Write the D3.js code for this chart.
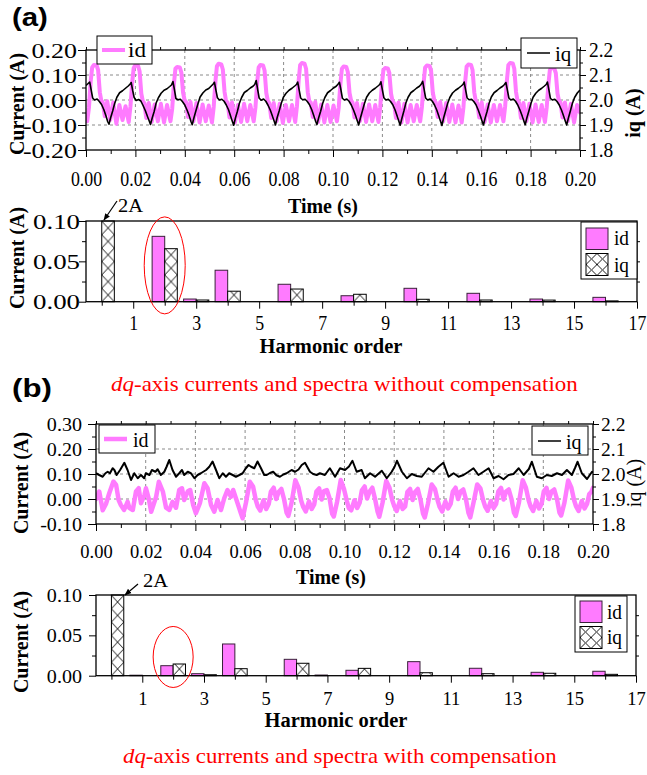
<!DOCTYPE html>
<html>
<head>
<meta charset="utf-8">
<script src="https://cdn.jsdelivr.net/npm/d3@7"></script>
<style>
  html, body { margin: 0; padding: 0; background: #fff; }
  svg { display: block; }
</style>
</head>
<body>
<svg id="fig" width="647" height="775"></svg>
<script>
// ---------------- data ----------------
// time axis (ms) and its labels (s)
const timeTicks = [0, 20, 40, 60, 80, 100, 120, 140, 160, 180, 200];
const timeMinorTicks = [10, 30, 50, 70, 90, 110, 130, 150, 170, 190];
const timeTickLabels = ["0.00", "0.02", "0.04", "0.06", "0.08", "0.10", "0.12", "0.14", "0.16", "0.18", "0.20"];

const iqTicks = [1.8, 1.9, 2.0, 2.1, 2.2];
const iqMinorTicks = [1.85, 1.95, 2.05, 2.15];
const iqTickLabels = ["1.8", "1.9", "2.0", "2.1", "2.2"];

const idTicksA = [-0.2, -0.1, 0, 0.1, 0.2];
const idMinorTicksA = [-0.15, -0.05, 0.05, 0.15];
const idTickLabelsA = ["-0.20", "-0.10", "0.00", "0.10", "0.20"];
const idTicksB = [-0.1, 0, 0.1, 0.2, 0.3];
const idMinorTicksB = [-0.05, 0.05, 0.15, 0.25];
const idTickLabelsB = ["-0.10", "0.00", "0.10", "0.20", "0.30"];

// harmonic spectra
const harmonics = [0, 1, 2, 3, 4, 5, 6, 7, 8, 9, 10, 11, 12, 13, 14, 15, 16];
const harmonicTicks = [1, 3, 5, 7, 9, 11, 13, 15, 17];
const harmonicMinorTicks = [0, 2, 4, 6, 8, 10, 12, 14, 16];
const harmonicTickLabels = ["1", "3", "5", "7", "9", "11", "13", "15", "17"];
const specTicks = [0, 0.05, 0.1];
const specMinorTicks = [0.025, 0.075];
const specTickLabels = ["0.00", "0.05", "0.10"];

const idSpecA = [0, 0, 0.081, 0.0033, 0.039, 0, 0.0216, 0, 0.0074, 0, 0.0166, 0, 0.0104, 0, 0.0033, 0, 0.0054];
const iqSpecA = [2.0, 0, 0.0657, 0.0021, 0.013, 0, 0.0157, 0, 0.0092, 0, 0.003, 0, 0.0021, 0, 0.002, 0, 0.001];
const idSpecB = [0, 0.0006, 0.0124, 0.0025, 0.0393, 0, 0.0203, 0.0008, 0.0067, 0, 0.0174, 0, 0.0092, 0, 0.0042, 0, 0.0055];
const iqSpecB = [2.0, 0, 0.0145, 0.0012, 0.0087, 0, 0.0154, 0, 0.0091, 0, 0.0037, 0, 0.0025, 0, 0.003, 0, 0.0017];

// time series [t (ms), current (A)] -- without compensation
const idA = [
  [0,-0.075],
  [0.5,-0.085],[1.2,-0.03],[1.9,0.075],[2.5,0.13],[3.2,0.14],[4.3,0.138],[4.9,0.12],[5.6,0.03],[6.2,-0.002],[6.8,-0.01],[7.6,-0.065],[8.6,-0.005],[9.8,-0.08],[11.0,-0.01],[12.3,-0.095],[13.5,-0.02],[14.8,-0.08],[16.0,-0.025],
  [17.3,-0.088],[18.0,-0.025],[18.7,0.07],[19.3,0.128],[20.0,0.14],[21.1,0.136],[21.7,0.115],[22.4,0.025],[23.0,-0.005],[23.6,-0.012],[24.4,-0.072],[25.4,-0.012],[26.6,-0.088],[27.8,-0.018],[29.1,-0.085],[30.3,-0.015],[31.6,-0.09],[32.8,-0.02],
  [34.2,-0.085],[34.9,-0.035],[35.6,0.065],[36.2,0.125],[36.9,0.132],[38.0,0.13],[38.6,0.11],[39.3,0.03],[39.9,0.0],[40.5,-0.008],[41.3,-0.068],[42.3,-0.008],[43.5,-0.085],[44.7,-0.012],[46.0,-0.09],[47.2,-0.018],[48.5,-0.085],[49.7,-0.022],
  [51.0,-0.09],[51.7,-0.028],[52.4,0.075],[53.0,0.135],[53.7,0.145],[54.8,0.142],[55.4,0.122],[56.1,0.032],[56.7,-0.004],[57.3,-0.01],[58.1,-0.07],[59.1,-0.01],[60.3,-0.09],[61.5,-0.02],[62.8,-0.088],[64.0,-0.015],[65.3,-0.085],[66.5,-0.02],
  [67.9,-0.085],[68.6,-0.03],[69.3,0.07],[69.9,0.13],[70.6,0.14],[71.7,0.138],[72.3,0.118],[73.0,0.028],[73.6,-0.003],[74.2,-0.012],[75.0,-0.072],[76.0,-0.012],[77.2,-0.085],[78.4,-0.015],[79.7,-0.092],[80.9,-0.02],[82.2,-0.085],[83.4,-0.02],
  [84.7,-0.088],[85.4,-0.025],[86.1,0.078],[86.7,0.14],[87.4,0.148],[88.5,0.145],[89.1,0.125],[89.8,0.03],[90.4,-0.005],[91.0,-0.01],[91.8,-0.068],[92.8,-0.008],[94.0,-0.088],[95.2,-0.018],[96.5,-0.09],[97.7,-0.02],[99.0,-0.088],[100.2,-0.022],
  [101.6,-0.085],[102.3,-0.032],[103.0,0.065],[103.6,0.125],[104.3,0.134],[105.4,0.132],[106.0,0.112],[106.7,0.028],[107.3,-0.002],[107.9,-0.01],[108.7,-0.07],[109.7,-0.012],[110.9,-0.085],[112.1,-0.015],[113.4,-0.088],[114.6,-0.018],[115.9,-0.085],[117.1,-0.02],
  [118.4,-0.088],[119.1,-0.03],[119.8,0.062],[120.4,0.12],[121.1,0.128],[122.2,0.126],[122.8,0.108],[123.5,0.025],[124.1,-0.005],[124.7,-0.012],[125.5,-0.072],[126.5,-0.01],[127.7,-0.09],[128.9,-0.015],[130.2,-0.09],[131.4,-0.02],[132.7,-0.085],[133.9,-0.02],
  [135.3,-0.085],[136.0,-0.028],[136.7,0.07],[137.3,0.13],[138.0,0.138],[139.1,0.136],[139.7,0.118],[140.4,0.03],[141.0,0.0],[141.6,-0.01],[142.4,-0.068],[143.4,-0.008],[144.6,-0.085],[145.8,-0.012],[147.1,-0.088],[148.3,-0.018],[149.6,-0.09],[150.8,-0.022],
  [152.1,-0.09],[152.8,-0.03],[153.5,0.072],[154.1,0.134],[154.8,0.142],[155.9,0.14],[156.5,0.12],[157.2,0.03],[157.8,-0.004],[158.4,-0.012],[159.2,-0.07],[160.2,-0.01],[161.4,-0.088],[162.6,-0.018],[163.9,-0.09],[165.1,-0.02],[166.4,-0.085],[167.6,-0.02],
  [169.0,-0.085],[169.7,-0.025],[170.4,0.078],[171.0,0.14],[171.7,0.148],[172.8,0.146],[173.4,0.125],[174.1,0.032],[174.7,-0.002],[175.3,-0.01],[176.1,-0.072],[177.1,-0.012],[178.3,-0.085],[179.5,-0.015],[180.8,-0.09],[182.0,-0.018],[183.3,-0.088],[184.5,-0.02],
  [185.8,-0.088],[186.5,-0.032],[187.2,0.062],[187.8,0.12],[188.5,0.128],[189.6,0.126],[190.2,0.108],[190.9,0.025],[191.5,-0.004],[192.1,-0.01],[192.9,-0.07],[193.9,-0.01],[195.1,-0.085],[196.3,-0.015],[197.6,-0.09],[198.8,-0.02],[200.0,-0.05]
];
const iqA = [
  [0,2.058],
  [1.5,2.072],[2.1,2.04],[2.7,2.008],[3.5,2.0],[4.5,2.004],[5.4,1.994],[6.3,1.982],[7.2,1.962],[8.1,1.936],[8.8,1.913],[9.3,1.903],[10.0,1.93],[10.8,1.956],[11.6,1.986],[12.5,2.011],[13.6,2.029],[14.8,2.037],[16.0,2.047],[17.1,2.056],[17.8,2.063],
  [18.3,2.07],[18.9,2.038],[19.5,2.01],[20.3,1.998],[21.3,2.002],[22.2,1.996],[23.1,1.978],[24.0,1.958],[24.9,1.934],[25.6,1.916],[26.1,1.902],[26.8,1.928],[27.6,1.954],[28.4,1.988],[29.3,2.009],[30.4,2.027],[31.6,2.039],[32.8,2.045],[33.9,2.054],[34.6,2.06],
  [35.2,2.074],[35.8,2.042],[36.4,2.006],[37.2,2.001],[38.2,2.003],[39.1,1.993],[40.0,1.98],[40.9,1.96],[41.8,1.937],[42.5,1.914],[43.0,1.901],[43.7,1.929],[44.5,1.957],[45.3,1.984],[46.2,2.012],[47.3,2.028],[48.5,2.04],[49.7,2.046],[50.8,2.057],[51.5,2.064],
  [52.0,2.071],[52.6,2.039],[53.2,2.009],[54.0,2.0],[55.0,2.003],[55.9,1.995],[56.8,1.98],[57.7,1.961],[58.6,1.934],[59.3,1.913],[59.8,1.899],[60.5,1.928],[61.3,1.955],[62.1,1.987],[63.0,2.01],[64.1,2.03],[65.3,2.038],[66.5,2.048],[67.6,2.055],[68.3,2.062],
  [68.9,2.078],[69.5,2.042],[70.1,2.008],[70.9,1.999],[71.9,2.004],[72.8,1.995],[73.7,1.979],[74.6,1.96],[75.5,1.935],[76.2,1.915],[76.7,1.9],[77.4,1.93],[78.2,1.956],[79.0,1.985],[79.9,2.011],[81.0,2.027],[82.2,2.039],[83.4,2.047],[84.5,2.056],[85.2,2.062],
  [85.7,2.072],[86.3,2.04],[86.9,2.008],[87.7,2.001],[88.7,2.003],[89.6,1.994],[90.5,1.981],[91.4,1.961],[92.3,1.935],[93.0,1.914],[93.5,1.902],[94.2,1.929],[95.0,1.955],[95.8,1.986],[96.7,2.01],[97.8,2.029],[99.0,2.038],[100.2,2.048],[101.3,2.055],[102.0,2.063],
  [102.6,2.071],[103.2,2.041],[103.8,2.007],[104.6,2.0],[105.6,2.004],[106.5,1.995],[107.4,1.98],[108.3,1.96],[109.2,1.936],[109.9,1.915],[110.4,1.9],[111.1,1.928],[111.9,1.956],[112.7,1.985],[113.6,2.011],[114.7,2.028],[115.9,2.039],[117.1,2.047],[118.2,2.056],[118.9,2.062],
  [119.4,2.073],[120.0,2.04],[120.6,2.009],[121.4,2.0],[122.4,2.003],[123.3,1.994],[124.2,1.981],[125.1,1.961],[126.0,1.935],[126.7,1.914],[127.2,1.899],[127.9,1.927],[128.7,1.956],[129.5,1.988],[130.4,2.011],[131.5,2.029],[132.7,2.038],[133.9,2.048],[135.0,2.055],[135.7,2.063],
  [136.3,2.075],[136.9,2.042],[137.5,2.008],[138.3,2.0],[139.3,2.004],[140.2,1.995],[141.1,1.98],[142.0,1.96],[142.9,1.934],[143.6,1.913],[144.1,1.898],[144.8,1.929],[145.6,1.957],[146.4,1.986],[147.3,2.01],[148.4,2.028],[149.6,2.039],[150.8,2.047],[151.9,2.056],[152.6,2.062],
  [153.1,2.072],[153.7,2.04],[154.3,2.008],[155.1,2.001],[156.1,2.003],[157.0,1.994],[157.9,1.981],[158.8,1.96],[159.7,1.935],[160.4,1.914],[160.9,1.9],[161.6,1.928],[162.4,1.955],[163.2,1.987],[164.1,2.012],[165.2,2.029],[166.4,2.038],[167.6,2.048],[168.7,2.055],[169.4,2.062],
  [170.0,2.07],[170.6,2.04],[171.2,2.008],[172.0,2.0],[173.0,2.004],[173.9,1.995],[174.8,1.98],[175.7,1.96],[176.6,1.936],[177.3,1.915],[177.8,1.901],[178.5,1.929],[179.3,1.956],[180.1,1.985],[181.0,2.011],[182.1,2.027],[183.3,2.039],[184.5,2.047],[185.6,2.056],[186.3,2.062],
  [186.8,2.072],[187.4,2.041],[188.0,2.007],[188.8,2.0],[189.8,2.003],[190.7,1.994],[191.6,1.98],[192.5,1.96],[193.4,1.935],[194.1,1.914],[194.6,1.9],[195.3,1.928],[196.1,1.956],[196.9,1.986],[197.8,2.01],[198.9,2.028],[200.0,2.04]
];

// time series [t (ms), current (A)] -- with compensation
const idB = [
  [0,0.0],[1.3,0.03],[2.7,-0.045],[4.0,-0.02],[5.4,0.025],
  [7.0,0.07],[8.1,0.056],[9.1,-0.004],[10.0,-0.024],[11.3,-0.044],[12.7,-0.011],[13.4,-0.035],[14.8,-0.044],[16.1,0.03],[17.2,0.043],[18.1,-0.017],[19.5,0.016],[20.1,0.043],[21.2,0.003],[22.2,-0.051],[24.2,0.009],
  [25.3,0.069],[26.9,0.03],[28.2,-0.035],[29.5,-0.044],[30.8,-0.011],[32.2,-0.035],[33.5,0.036],[34.6,0.043],[35.5,-0.004],[36.9,0.03],[37.9,0.036],[39.1,-0.024],[40.2,-0.057],[41.8,-0.017],
  [43.6,0.063],[44.9,0.043],[46.3,-0.024],[47.6,-0.051],[48.9,-0.004],[50.3,-0.044],[51.6,0.003],[52.9,0.036],[54.3,0.009],[55.2,0.036],[56.3,0.003],[58.3,-0.057],[59.0,-0.077],[60.3,-0.017],
  [61.9,0.069],[63.2,0.05],[64.3,-0.004],[65.1,-0.03],[66.1,-0.046],[67.4,-0.005],[68.5,-0.04],[69.5,-0.02],[70.4,0.03],[71.5,0.045],[72.5,0.0],[73.5,0.028],[74.6,0.04],[75.7,-0.002],[76.7,-0.055],[77.4,-0.068],[78.7,-0.015],
  [80.2,0.075],[81.5,0.045],[82.6,-0.008],[83.4,-0.032],[84.4,-0.05],[85.7,-0.01],[86.8,-0.04],[87.8,-0.022],[88.7,0.03],[89.8,0.042],[90.8,-0.002],[91.8,0.032],[92.9,0.036],[94.0,0.002],[95.0,-0.058],[95.7,-0.07],[97.0,-0.012],
  [98.5,0.076],[99.8,0.04],[100.9,-0.006],[101.7,-0.036],[102.7,-0.045],[104.0,-0.005],[105.1,-0.036],[106.1,-0.015],[107.0,0.035],[108.1,0.05],[109.1,0.002],[110.1,0.03],[111.2,0.045],[112.3,0.0],[113.3,-0.05],[114.0,-0.071],[115.3,-0.015],
  [116.8,0.072],[118.1,0.045],[119.2,-0.004],[120.0,-0.028],[121.0,-0.048],[122.3,-0.008],[123.4,-0.04],[124.4,-0.03],[125.3,0.028],[126.4,0.04],[127.4,-0.004],[128.4,0.028],[129.5,0.04],[130.6,-0.004],[131.6,-0.058],[132.3,-0.074],[133.6,-0.018],
  [135.1,0.058],[136.4,0.04],[137.5,-0.006],[138.3,-0.032],[139.3,-0.05],[140.6,-0.01],[141.7,-0.038],[142.7,-0.02],[143.6,0.03],[144.7,0.045],[145.7,0.0],[146.7,0.03],[147.8,0.038],[148.9,-0.002],[149.9,-0.056],[150.6,-0.074],[151.9,-0.015],
  [153.4,0.058],[154.7,0.042],[155.8,-0.005],[156.6,-0.03],[157.6,-0.047],[158.9,-0.008],[160.0,-0.036],[161.0,-0.02],[161.9,0.03],[163.0,0.044],[164.0,-0.002],[165.0,0.03],[166.1,0.038],[167.2,0.0],[168.2,-0.055],[168.9,-0.068],[170.2,-0.014],
  [171.7,0.075],[173.0,0.045],[174.1,-0.005],[174.9,-0.03],[175.9,-0.048],[177.2,-0.008],[178.3,-0.038],[179.3,-0.02],[180.2,0.03],[181.3,0.044],[182.3,0.0],[183.3,0.03],[184.4,0.038],[185.5,0.0],[186.5,-0.054],[187.2,-0.066],[188.5,-0.015],
  [190.0,0.074],[191.3,0.045],[192.4,-0.005],[193.2,-0.03],[194.2,-0.048],[195.5,-0.008],[196.6,-0.038],[197.6,-0.02],[198.5,0.02],[199.3,0.028],[200.0,0.045]
];
const iqB = [
  [0,2.003],[1.3,1.996],[2.7,1.989],[3.8,2.003],[4.7,2.009],[5.6,2.003],[6.7,2.023],[7.4,2.016],[8.3,1.996],[9.7,2.016],[11.4,2.045],[12.7,2.016],[14.1,1.976],[15.4,2.003],[16.8,1.983],[18.1,1.996],[19.4,1.983],[20.1,2.003],[21.5,1.996],[22.5,2.016],[23.9,2.009],
  [24.8,2.019],[26.1,1.996],[27.5,2.009],[28.4,2.029],[29.5,2.056],[30.8,2.016],[32.2,1.989],[33.5,2.003],[34.6,2.016],[35.5,1.996],[36.9,2.009],[38.2,2.003],[39.6,1.983],[40.9,1.996],[42.2,2.003],
  [44.3,2.016],[45.6,2.029],[46.9,2.05],[48.3,2.016],[49.6,1.983],[51.0,2.003],[52.3,1.989],[53.6,2.003],[55.0,1.996],[56.3,1.989],[57.7,1.996],[59.0,2.003],[60.3,2.023],[61.4,2.036],[62.4,2.029],[63.7,2.023],[65.0,2.05],[66.4,2.023],[67.7,1.996],
  [68.7,1.996],[70.0,2.004],[71.3,2.009],[72.6,1.995],[74.0,1.989],[75.4,1.998],[76.7,2.003],[78.7,2.016],[80.1,2.009],[81.5,2.018],[82.8,2.036],[84.1,2.045],[86.1,2.009],[87.4,2.0],[88.8,1.996],
  [90.1,2.003],[92.1,1.996],[94.1,2.023],[96.2,1.989],[98.2,2.023],[100.2,2.016],[101.8,2.03],[103.2,2.053],[104.9,2.009],[106.9,2.016],[108.2,1.983],[110.3,2.003],[112.3,1.989],[115.0,2.013],[117.0,1.983],
  [119.0,2.009],[120.2,2.03],[121.1,2.053],[123.1,2.009],[125.1,1.983],[127.1,2.0],[129.1,1.992],[131.1,1.989],[133.8,2.023],[135.8,2.009],[137.8,2.029],[139.8,2.045],[141.9,1.989],[143.9,2.003],[145.9,1.989],
  [147.9,1.996],[149.9,2.009],[151.9,2.023],[153.9,1.996],[155.9,2.009],[158.0,2.023],[160.0,1.983],[162.0,1.992],[164.0,1.979],[166.0,1.996],[168.0,2.0],[170.1,2.023],[172.1,1.996],[174.2,2.02],[175.4,2.049],
  [177.4,1.989],[179.4,1.983],[181.4,1.996],[183.4,1.992],[185.5,2.003],[187.5,1.996],[189.5,2.016],[191.5,1.996],[192.8,2.025],[193.8,2.049],[195.5,2.003],[197.6,1.98],[199.6,2.009],[200.0,2.005]
];

// ---------------- drawing ----------------
const SERIF = "'Liberation Serif','Times New Roman',Times,serif";
const SANS = "'Liberation Sans',Arial,Helvetica,sans-serif";
const PINK = "#ff7bff";
const svg = d3.select("#fig");
const defs = svg.append("defs");

function txt(parent, x, y, s, o = {}) {
  return parent.append("text")
    .attr("transform", `translate(${x},${y})` + (o.rotate ? ` rotate(${o.rotate})` : "") + ` scale(${o.sx || 1},1)`)
    .attr("font-family", o.family || SERIF)
    .attr("font-size", o.size || 20)
    .attr("font-weight", o.weight || "normal")
    .attr("text-anchor", o.anchor || "start")
    .attr("fill", o.fill || "#000")
    .text(s);
}

function styleTickText(axisG, o) {
  axisG.selectAll(".tick text")
    .attr("font-family", SERIF)
    .attr("font-size", o.size)
    .attr("transform", `scale(${o.sx},1)`)
    .each(function () {
      const t = d3.select(this);
      if (o.x !== undefined) t.attr("x", o.x / o.sx);
      if (o.y !== undefined) t.attr("y", o.y);
      t.attr("dy", o.dy);
    });
  axisG.select(".domain").remove();
}

let hatchCount = 0;
function hatch(x, yBottom, cw, ch) {
  const id = "hatch" + (hatchCount++);
  const p = defs.append("pattern").attr("id", id)
    .attr("patternUnits", "userSpaceOnUse")
    .attr("x", x).attr("y", yBottom).attr("width", cw).attr("height", ch);
  p.append("rect").attr("width", cw).attr("height", ch).attr("fill", "#fff");
  p.append("path").attr("d", `M0,0L${cw},${ch}M${cw},0L0,${ch}`)
    .attr("stroke", "#000").attr("stroke-width", 0.9).attr("fill", "none");
  return `url(#${id})`;
}

function drawTime(p) {
  const g = svg.append("g");
  const x = d3.scaleLinear([0, 200], [p.left, p.right]);
  const y = d3.scaleLinear(p.idDomain, [p.bottom, p.top]);
  const y2 = d3.scaleLinear([1.8, 2.2], [p.bottom, p.top]);

  // grid
  g.append("g").selectAll("line").data(timeTicks.slice(1, -1)).join("line")
    .attr("x1", d => x(d)).attr("x2", d => x(d)).attr("y1", p.top).attr("y2", p.bottom)
    .attr("stroke", "#8a8a8a").attr("stroke-width", 1).attr("stroke-dasharray", "3,3");
  g.append("g").selectAll("line").data(p.idTicks.slice(1, -1)).join("line")
    .attr("x1", p.left).attr("x2", p.right).attr("y1", d => y(d)).attr("y2", d => y(d))
    .attr("stroke", "#8a8a8a").attr("stroke-width", 1).attr("stroke-dasharray", "3,3");

  // traces
  const cid = "clip" + p.name;
  defs.append("clipPath").attr("id", cid).append("rect")
    .attr("x", p.left).attr("y", p.top).attr("width", p.right - p.left).attr("height", p.bottom - p.top);
  const lines = g.append("g").attr("clip-path", `url(#${cid})`);
  lines.append("path").datum(p.id)
    .attr("d", d3.line().x(d => x(d[0])).y(d => y(d[1])))
    .attr("fill", "none").attr("stroke", PINK).attr("stroke-width", p.idWidth)
    .attr("stroke-linejoin", "round").attr("stroke-linecap", "round");
  lines.append("path").datum(p.iq)
    .attr("d", d3.line().x(d => x(d[0])).y(d => y2(d[1])))
    .attr("fill", "none").attr("stroke", "#000").attr("stroke-width", p.iqWidth)
    .attr("stroke-linejoin", "round");

  // axes
  const bx = g.append("g").attr("transform", `translate(0,${p.bottom})`)
    .call(d3.axisBottom(x).tickValues(timeTicks).tickSize(7).tickFormat((d, i) => timeTickLabels[i]));
  styleTickText(bx, p.xLab);
  g.append("g").attr("transform", `translate(0,${p.bottom})`)
    .call(d3.axisBottom(x).tickValues(timeMinorTicks).tickSize(4).tickFormat(""))
    .select(".domain").remove();
  g.append("g").attr("transform", `translate(0,${p.top})`)
    .call(d3.axisTop(x).tickValues(timeTicks.concat(timeMinorTicks)).tickSize(3).tickFormat(""))
    .select(".domain").remove();

  const ly = g.append("g").attr("transform", `translate(${p.left},0)`)
    .call(d3.axisLeft(y).tickValues(p.idTicks).tickSize(8).tickFormat((d, i) => p.idLabels[i]));
  styleTickText(ly, p.yLab);
  g.append("g").attr("transform", `translate(${p.left},0)`)
    .call(d3.axisLeft(y).tickValues(p.idMinor).tickSize(4).tickFormat(""))
    .select(".domain").remove();

  const ry = g.append("g").attr("transform", `translate(${p.right},0)`)
    .call(d3.axisRight(y2).tickValues(iqTicks).tickSize(6).tickFormat((d, i) => iqTickLabels[i]));
  styleTickText(ry, p.rLab);
  g.append("g").attr("transform", `translate(${p.right},0)`)
    .call(d3.axisRight(y2).tickValues(iqMinorTicks).tickSize(3).tickFormat(""))
    .select(".domain").remove();

  // frame
  g.append("rect").attr("x", p.left).attr("y", p.top)
    .attr("width", p.right - p.left).attr("height", p.bottom - p.top)
    .attr("fill", "none").attr("stroke", "#000").attr("stroke-width", 1.3);

  // legends
  const L1 = p.legId;
  g.append("rect").attr("x", L1.x).attr("y", L1.y).attr("width", L1.w).attr("height", L1.h)
    .attr("fill", "#fff").attr("stroke", "#000").attr("stroke-width", 1);
  g.append("line").attr("x1", L1.x + 5).attr("x2", L1.x + 28).attr("y1", L1.ly).attr("y2", L1.ly)
    .attr("stroke", PINK).attr("stroke-width", p.idWidth);
  txt(g, L1.tx, L1.ty, "id", { size: L1.size, sx: L1.sx });
  const L2 = p.legIq;
  g.append("rect").attr("x", L2.x).attr("y", L2.y).attr("width", L2.w).attr("height", L2.h)
    .attr("fill", "#fff").attr("stroke", "#000").attr("stroke-width", 1);
  g.append("line").attr("x1", L2.x + 6).attr("x2", L2.x + 29).attr("y1", L2.ly).attr("y2", L2.ly)
    .attr("stroke", "#000").attr("stroke-width", 1.5);
  txt(g, L2.tx, L2.ty, "iq", { size: L2.size, sx: L2.sx });

  // axis titles
  txt(g, p.ttl.cx, p.ttl.cy, "Current (A)", { size: 21, weight: "bold", anchor: "middle", rotate: -90, sx: 0.95 });
  txt(g, p.ttr.cx, p.ttr.cy, "iq (A)", { size: 20, weight: p.ttr.weight, anchor: "middle", rotate: -90 });
  txt(g, p.ttb.cx, p.ttb.cy, "Time (s)", { size: 21, weight: "bold", anchor: "middle", sx: 0.95 });
}

function drawSpec(p) {
  const g = svg.append("g");
  const x = d3.scaleLinear([-0.5, 17], [p.left, p.right]);
  const y = d3.scaleLinear([0, 0.1], [p.bottom, p.top]).clamp(true);
  const rows = harmonics.map((h, i) => ({ h, id: p.id[i], iq: p.iq[i] }));

  // bars: id left of each harmonic, iq right of it
  g.append("g").selectAll("rect").data(rows.filter(d => d.id > 0)).join("rect")
    .attr("x", d => x(d.h - 0.4)).attr("width", d => x(d.h) - x(d.h - 0.4))
    .attr("y", d => y(d.id)).attr("height", d => p.bottom - y(d.id))
    .attr("fill", PINK).attr("stroke", "#3a203a").attr("stroke-width", 1);
  g.append("g").selectAll("rect").data(rows.filter(d => d.iq > 0)).join("rect")
    .attr("x", d => x(d.h)).attr("width", d => x(d.h + 0.4) - x(d.h))
    .attr("y", d => y(d.iq)).attr("height", d => p.bottom - y(d.iq))
    .attr("fill", d => hatch(x(d.h), p.bottom, x(d.h + 0.4) - x(d.h), 13.4))
    .attr("stroke", "#000").attr("stroke-width", 1);

  // axes
  const bx = g.append("g").attr("transform", `translate(0,${p.bottom})`)
    .call(d3.axisBottom(x).tickValues(harmonicTicks).tickSize(7).tickFormat((d, i) => harmonicTickLabels[i]));
  styleTickText(bx, p.xLab);
  g.append("g").attr("transform", `translate(0,${p.bottom})`)
    .call(d3.axisBottom(x).tickValues(harmonicMinorTicks).tickSize(4).tickFormat(""))
    .select(".domain").remove();
  const ly = g.append("g").attr("transform", `translate(${p.left},0)`)
    .call(d3.axisLeft(y).tickValues(specTicks).tickSize(7).tickFormat((d, i) => specTickLabels[i]));
  styleTickText(ly, p.yLab);
  g.append("g").attr("transform", `translate(${p.left},0)`)
    .call(d3.axisLeft(y).tickValues(specMinorTicks).tickSize(4).tickFormat(""))
    .select(".domain").remove();
  g.append("g").attr("transform", `translate(${p.right},0)`)
    .call(d3.axisRight(y).tickValues([0.025, 0.05, 0.075]).tickSize(3).tickFormat(""))
    .select(".domain").remove();

  g.append("rect").attr("x", p.left).attr("y", p.top)
    .attr("width", p.right - p.left).attr("height", p.bottom - p.top)
    .attr("fill", "none").attr("stroke", "#000").attr("stroke-width", 1.3);

  // legend
  const L = p.leg;
  g.append("rect").attr("x", L.x).attr("y", L.y).attr("width", L.w).attr("height", L.h)
    .attr("fill", "#fff").attr("stroke", "#000").attr("stroke-width", 1);
  g.append("rect").attr("x", L.sx).attr("y", L.s1).attr("width", 22).attr("height", 21.5)
    .attr("fill", PINK).attr("stroke", "#3a203a").attr("stroke-width", 1);
  g.append("rect").attr("x", L.sx).attr("y", L.s2).attr("width", 22).attr("height", 22)
    .attr("fill", hatch(L.sx, L.s2 + 22, 11, 11)).attr("stroke", "#000").attr("stroke-width", 1);
  txt(g, L.tx, L.t1, "id", { size: 21, sx: 0.92 });
  txt(g, L.tx, L.t2, "iq", { size: 21, sx: 0.92 });

  // annotation for the clipped DC component and the ellipse round the 2nd harmonic
  txt(g, p.dc.tx, p.dc.ty, "2A", { size: 19, sx: 1.08 });
  g.append("line").attr("x1", p.dc.x1).attr("y1", p.dc.y1).attr("x2", p.dc.x2).attr("y2", p.dc.y2)
    .attr("stroke", "#000").attr("stroke-width", 1.2).attr("marker-end", "url(#arrowHead)");
  g.append("ellipse").attr("cx", x(2)).attr("cy", y(p.ell.v))
    .attr("rx", p.ell.rx).attr("ry", p.ell.ry)
    .attr("fill", "none").attr("stroke", "#ff0000").attr("stroke-width", 1);

  txt(g, p.ttl.cx, p.ttl.cy, "Current (A)", { size: 21, weight: "bold", anchor: "middle", rotate: -90, sx: 0.95 });
  txt(g, p.ttb.cx, p.ttb.cy, "Harmonic order", { size: 20.5, weight: "bold", anchor: "middle" });
}

defs.append("marker").attr("id", "arrowHead").attr("viewBox", "0 0 10 10")
  .attr("refX", 9).attr("refY", 5).attr("markerWidth", 7).attr("markerHeight", 7)
  .attr("markerUnits", "userSpaceOnUse").attr("orient", "auto")
  .append("path").attr("d", "M0,1L10,5L0,9Z").attr("fill", "#000");

// (a) without compensation
drawTime({
  name: "A", left: 86, right: 580, top: 50, bottom: 150,
  idDomain: [-0.2, 0.2], idTicks: idTicksA, idMinor: idMinorTicksA, idLabels: idTickLabelsA,
  id: idA, iq: iqA, idWidth: 4, iqWidth: 1.6,
  xLab: { size: 21, sx: 0.85, y: 36, dy: null },
  yLab: { size: 22, sx: 1.18, x: -9, dy: "0.34em" },
  rLab: { size: 20, sx: 0.97, x: 9, dy: "0.34em" },
  legId: { x: 97, y: 36, w: 55, h: 28, ly: 50, tx: 128, ty: 57, size: 22, sx: 1.05 },
  legIq: { x: 521, y: 38, w: 56, h: 30, ly: 53, tx: 555, ty: 60.5, size: 21, sx: 1.0 },
  ttl: { cx: 23.5, cy: 104 }, ttr: { cx: 640, cy: 113, weight: "bold" }, ttb: { cx: 323, cy: 213 }
});
drawSpec({
  left: 86, right: 637, top: 221, bottom: 301.7, id: idSpecA, iq: iqSpecA,
  xLab: { size: 21, sx: 0.85, y: 28, dy: null },
  yLab: { size: 21, sx: 1.28, x: -6, dy: "0.34em" },
  leg: { x: 581, y: 222, w: 56, h: 57, sx: 586, s1: 228, s2: 253.5, tx: 614, t1: 245, t2: 271.5 },
  dc: { tx: 118, ty: 212, x1: 117, y1: 201, x2: 104, y2: 220 },
  ell: { v: 0.045, rx: 20.5, ry: 48.5 },
  ttl: { cx: 23.5, cy: 258 }, ttb: { cx: 331, cy: 353 }
});

// (b) with compensation
drawTime({
  name: "B", left: 96, right: 593, top: 424, bottom: 524,
  idDomain: [-0.1, 0.3], idTicks: idTicksB, idMinor: idMinorTicksB, idLabels: idTickLabelsB,
  id: idB, iq: iqB, idWidth: 4.5, iqWidth: 2,
  xLab: { size: 19.5, sx: 0.95, y: 34, dy: null },
  yLab: { size: 19.5, sx: 1.03, x: -14, dy: "0.34em" },
  rLab: { size: 19.5, sx: 1.0, x: 8, dy: "0.34em" },
  legId: { x: 99, y: 425, w: 56, h: 28, ly: 439, tx: 133, ty: 446.5, size: 20, sx: 1.0 },
  legIq: { x: 532, y: 426, w: 56, h: 29, ly: 441, tx: 566, ty: 448.5, size: 20, sx: 1.0 },
  ttl: { cx: 27.5, cy: 483 }, ttr: { cx: 641, cy: 483, weight: "normal" }, ttb: { cx: 331, cy: 584 }
});
drawSpec({
  left: 96, right: 636, top: 595, bottom: 675.7, id: idSpecB, iq: iqSpecB,
  xLab: { size: 19.5, sx: 0.95, y: 29.5, dy: null },
  yLab: { size: 19.5, sx: 1.03, x: -14, dy: "0.34em" },
  leg: { x: 575, y: 596, w: 52, h: 56, sx: 580, s1: 601, s2: 626.5, tx: 607, t1: 619, t2: 644 },
  dc: { tx: 143, ty: 587, x1: 138, y1: 584, x2: 125, y2: 595 },
  ell: { v: 0.0232, rx: 20, ry: 30.5 },
  ttl: { cx: 27.5, cy: 642 }, ttb: { cx: 336, cy: 727 }
});

// panel tags
txt(svg, 12, 26.2, "(a)", { family: SANS, size: 26, weight: "bold", sx: 1.13 });
txt(svg, 12, 397.4, "(b)", { family: SANS, size: 26.5, weight: "bold", sx: 1.18 });

// captions, fitted to their line widths
function caption(x, y, rest, width) {
  const t = svg.append("text").attr("x", 0).attr("y", 0)
    .attr("font-family", SERIF).attr("font-size", 21).attr("fill", "#ff0000");
  t.append("tspan").attr("font-style", "italic").text("dq");
  t.append("tspan").text(rest);
  const w = t.node().getComputedTextLength();
  t.attr("transform", `translate(${x},${y}) scale(${width / w},1)`);
}
caption(111, 391, "-axis currents and spectra without compensation", 467);
caption(123, 762.5, "-axis currents and spectra with compensation", 434);
</script>
</body>
</html>
